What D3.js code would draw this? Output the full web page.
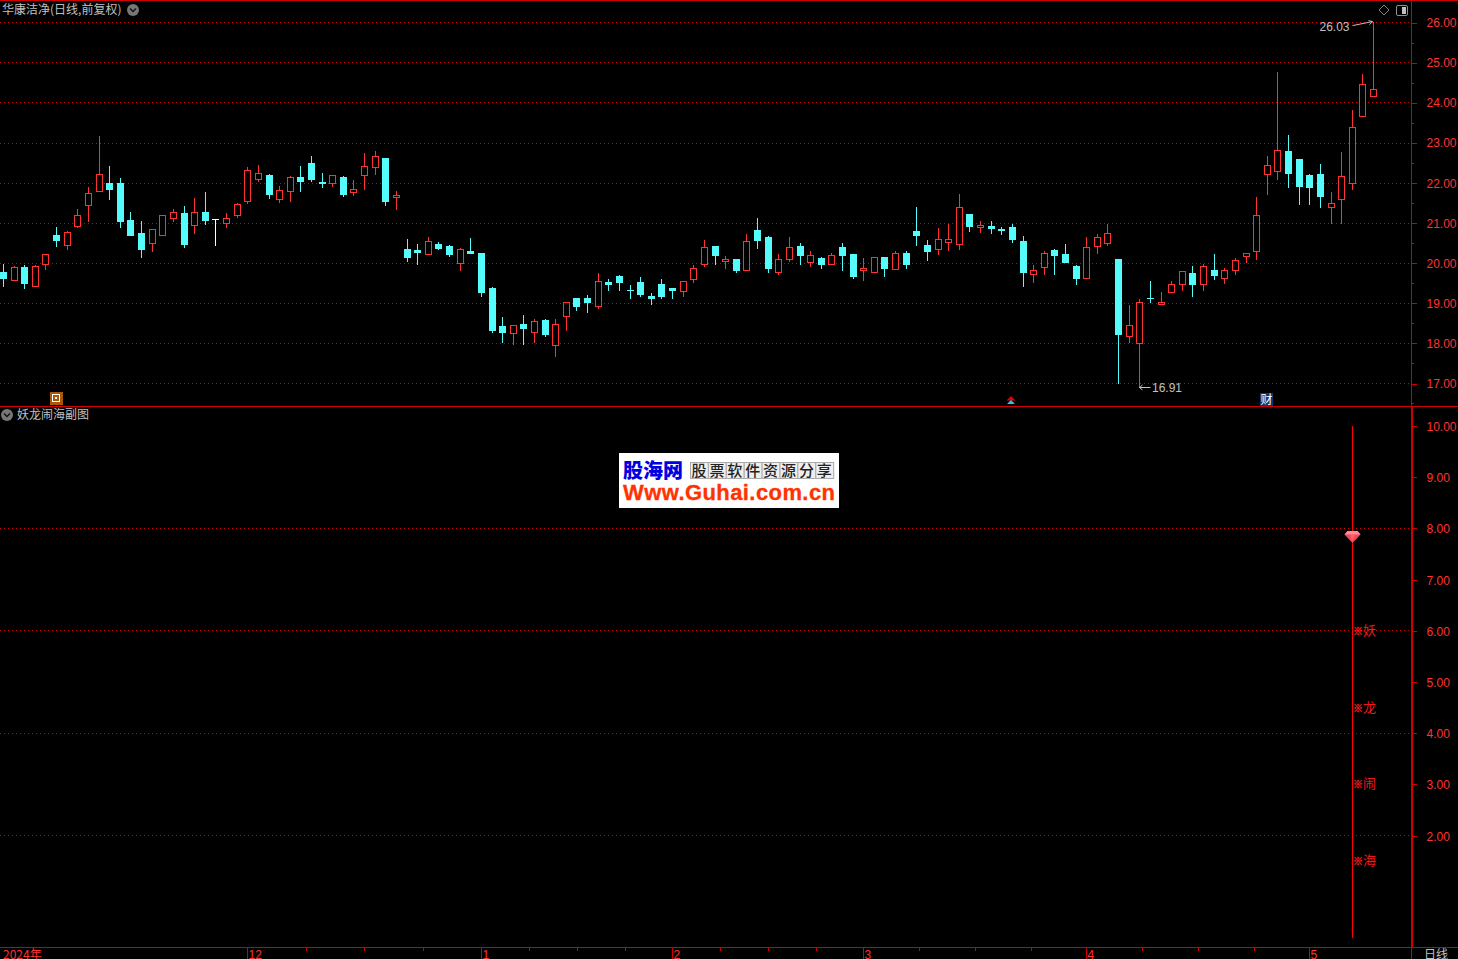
<!DOCTYPE html>
<html><head><meta charset="utf-8">
<script src="https://cdn.jsdelivr.net/npm/d3@7"></script>
<style>
html,body{margin:0;padding:0;background:#000;overflow:hidden}
svg{display:block}
text{font-family:"Liberation Sans","Noto Sans CJK SC",sans-serif}
.cjk{font-family:"Noto Sans CJK SC",sans-serif}
</style></head><body>
<script>
const stockTitle="华康洁净(日线,前复权)";
const subTitle="妖龙闹海副图";
const periodLabel="日线";
const opens=[19.76,19.57,19.90,19.42,19.97,20.69,20.44,20.91,21.43,21.78,22.0,22.0,21.07,20.75,20.49,20.69,21.11,21.25,20.94,21.27,21.08,20.99,21.18,21.53,22.08,22.2,21.58,21.78,22.15,22.49,22.02,21.98,22.15,21.76,22.18,22.4,22.62,21.63,
20.33,20.31,20.22,20.46,20.41,19.99,20.28,20.23,19.38,18.41,18.24,18.46,18.27,18.58,17.94,18.67,19.11,19.11,18.92,19.53,19.68,19.33,19.51,19.18,19.48,19.36,19.29,19.59,19.96,20.41,20.03,20.08,
19.82,20.81,20.63,19.77,20.09,20.41,20.02,20.11,19.97,20.38,20.21,19.81,19.77,20.13,19.84,20.23,20.78,20.43,20.34,20.52,20.47,21.21,20.88,20.91,20.83,20.88,20.53,19.72,19.89,20.31,20.21,19.91,19.62,20.42,20.49,
20.08,18.16,18.0,19.13,18.98,19.28,19.47,19.75,19.48,19.82,19.62,19.82,20.16,20.29,22.21,22.28,22.79,22.59,22.19,22.22,21.38,21.58,22.0,23.65,24.15];
const closes=[19.63,19.90,19.49,19.93,20.22,20.57,20.77,21.19,21.74,22.22,21.85,21.05,20.7,20.33,20.84,21.19,21.26,20.46,21.26,21.07,21.08,21.12,21.47,22.31,22.24,21.72,21.81,22.14,22.05,22.09,22.0,22.19,21.72,21.84,22.42,22.66,21.55,21.69,
20.13,20.26,20.53,20.36,20.21,20.35,20.23,19.28,18.31,18.28,18.45,18.36,18.55,18.21,18.47,19.03,18.93,19.03,19.55,19.48,19.51,19.31,19.21,19.13,19.16,19.31,19.55,19.88,20.4,20.18,20.08,19.81,
20.55,20.56,19.88,20.1,20.38,20.18,20.2,19.98,20.2,20.18,19.68,19.86,20.13,19.88,20.25,19.98,20.68,20.28,20.58,20.58,21.4,20.91,20.93,20.86,20.82,20.58,19.78,19.83,20.25,20.18,20.01,19.63,20.38,20.63,20.73,
18.21,18.44,19.02,19.11,19.01,19.46,19.79,19.48,19.92,19.7,19.82,20.06,20.23,21.19,22.43,22.81,22.23,21.92,21.89,21.67,21.49,22.16,23.38,24.45,24.33];
const highs=[20.0,19.95,19.98,19.96,20.22,20.92,20.82,21.37,21.92,23.19,22.44,22.15,21.3,21.07,20.84,21.2,21.37,21.45,21.65,21.8,21.1,21.27,21.52,22.42,22.47,22.25,21.95,22.2,22.44,22.69,22.27,22.22,22.2,22.1,22.77,22.82,22.62,21.82,
20.61,20.48,20.66,20.53,20.46,20.38,20.63,20.23,19.43,18.68,18.45,18.73,18.63,18.61,18.63,19.03,19.13,19.23,19.76,19.63,19.73,19.46,19.68,19.28,19.61,19.38,19.55,19.96,20.58,20.41,20.18,20.08,
20.73,21.13,20.68,20.23,20.66,20.51,20.31,20.16,20.26,20.51,20.21,20.13,20.13,20.16,20.31,20.31,21.41,20.58,20.88,21.0,21.73,21.23,21.06,21.06,20.91,20.98,20.68,19.96,20.31,20.36,20.48,19.98,20.66,20.73,21.0,
20.1,18.98,19.13,19.57,19.3,19.57,19.79,19.94,19.99,20.25,19.9,20.14,20.26,21.67,22.69,24.79,23.22,22.62,22.24,22.49,21.79,22.79,23.84,24.74,26.03];
const lows=[19.41,19.57,19.38,19.42,19.85,20.42,20.34,20.89,21.03,21.78,21.58,20.9,20.68,20.13,20.3,20.69,21.03,20.38,20.73,20.97,20.43,20.9,21.13,21.48,22.05,21.62,21.52,21.55,21.8,22.05,21.9,21.92,21.67,21.7,21.85,22.22,21.45,21.35,
20.03,19.98,20.22,20.33,20.16,19.83,20.23,19.16,18.26,18.01,17.96,17.96,18.03,18.18,17.68,18.33,18.81,18.76,18.88,19.33,19.31,19.13,19.16,18.98,19.11,19.13,19.18,19.53,19.93,19.98,19.86,19.78,
19.82,20.36,19.78,19.73,20.03,19.98,19.91,19.88,19.97,19.83,19.63,19.58,19.77,19.68,19.84,19.88,20.43,20.06,20.21,20.31,20.33,20.78,20.76,20.73,20.71,20.51,19.41,19.53,19.71,19.73,20.01,19.48,19.62,20.23,20.43,
17.0,18.01,16.91,19.03,18.98,19.28,19.33,19.16,19.33,19.6,19.5,19.73,20.02,20.09,21.72,22.09,21.89,21.47,21.47,21.39,20.98,21.0,21.84,23.65,24.15];
const priceTicks=[26,25,24,23,22,21,20,19,18,17];
const priceMinorTicks=[25.5,24.5,23.5,22.5,21.5,20.5,19.5,18.5,17.5,16.5];
const subTicks=[10,9,8,7,6,5,4,3,2];
const subGrid=[8,6,4,2];
const monthLabels=["12","1","2","3","4","5"];
const monthIndex=[23,45,63,81,102,123];
const yearLabel="2024年";
const signalIndex=127;
const signalTop=10, signalBottom=0, gemValue=7.83;
const signalChars=["妖","龙","闹","海"];
const signalValues=[6,4.5,3,1.5];
const maxIndex=129, minIndex=107;

const W=1458,H=959;
const RED="#ff3232",CYAN="#54fcfc",FRAME="#d00000",GRID="#d80000",GRAY="#c0c0c0";
const PLOT_R=1412, MAIN_B=406.5, SUB_B=947.5;
const svg=d3.select("body").append("svg").attr("width",W).attr("height",H).style("background","#000");
const x=d3.scaleLinear().domain([0,129]).range([3.3,1373.3]);
const y=d3.scaleLinear().domain([17,26]).range([383.4,22.8]);
const ys=d3.scaleLinear().domain([0,10]).range([938,426]);
const cx=i=>Math.floor(x(i)+.2)+.5;
const py=v=>Math.floor(y(v))+.5;
const ps=v=>Math.floor(ys(v))+.5;

// grids
const grid=svg.append("g").attr("stroke",GRID).attr("stroke-dasharray","1,3").attr("shape-rendering","crispEdges");
grid.selectAll(".m").data(priceTicks).join("line").attr("x1",0).attr("x2",PLOT_R).attr("y1",py).attr("y2",py);
grid.selectAll(".s").data(subGrid).join("line").attr("x1",0).attr("x2",PLOT_R).attr("y1",ps).attr("y2",ps);

// candles
const data=d3.range(opens.length).map(i=>({i,o:opens[i],c:closes[i],h:highs[i],l:lows[i]}));
const col=d=>d.c>d.o?RED:d.c<d.o?CYAN:"#ffffff";
const cg=svg.append("g").attr("shape-rendering","crispEdges");
const candle=cg.selectAll("g").data(data).join("g");
candle.append("line").attr("x1",d=>cx(d.i)).attr("x2",d=>cx(d.i))
  .attr("y1",d=>py(d.h)).attr("y2",d=>py(Math.max(d.o,d.c))).attr("stroke",col);
candle.append("line").attr("x1",d=>cx(d.i)).attr("x2",d=>cx(d.i))
  .attr("y1",d=>py(Math.min(d.o,d.c))).attr("y2",d=>py(d.l)+.5).attr("stroke",col);
candle.filter(d=>d.c>d.o).append("rect")
  .attr("x",d=>cx(d.i)-3).attr("width",6)
  .attr("y",d=>py(d.c)).attr("height",d=>Math.max(1,py(d.o)-py(d.c)))
  .attr("fill","#000").attr("stroke",RED);
candle.filter(d=>d.c<d.o).append("rect")
  .attr("x",d=>cx(d.i)-3.5).attr("width",7)
  .attr("y",d=>py(d.o)-.5).attr("height",d=>Math.max(1,py(d.c)-py(d.o)+1))
  .attr("fill",CYAN);
candle.filter(d=>d.c===d.o).append("line")
  .attr("x1",d=>cx(d.i)-3.5).attr("x2",d=>cx(d.i)+3)
  .attr("y1",d=>py(d.o)).attr("y2",d=>py(d.o)).attr("stroke","#fff");

// extreme labels
const ann=svg.append("g").attr("fill",GRAY).attr("font-size",12);
const hx=cx(maxIndex),hy=y(highs[maxIndex]);
ann.append("text").attr("x",hx-54).attr("y",hy+9).text(highs[maxIndex].toFixed(2));
const lx=cx(minIndex),ly=y(lows[minIndex]);
ann.append("text").attr("x",lx+12.5).attr("y",ly+5).text(lows[minIndex].toFixed(2));
const arrows=svg.append("g").attr("stroke",GRAY).attr("fill","none");
arrows.append("path").attr("d",`M${hx-21},${hy+4}L${hx-1},${hy}M${hx-5},${hy-1}L${hx-1},${hy}L${hx-4},${hy+3}`);
arrows.append("path").attr("d",`M${lx+11},${ly+.5}H${lx}M${lx+3},${ly-2}L${lx},${ly+.5}L${lx+3},${ly+3}`);

// sub-panel signal
svg.append("line").attr("x1",cx(signalIndex)).attr("x2",cx(signalIndex)).attr("y1",ys(signalTop)).attr("y2",ys(signalBottom))
  .attr("stroke","#ff0000").attr("shape-rendering","crispEdges");
const gx=cx(signalIndex),gy=ys(gemValue);
const gem=svg.append("g").attr("transform",`translate(${gx},${gy})`);
gem.append("path").attr("d","M-5,-6H5L8,-2.5L0,6L-8,-2.5Z").attr("fill","#f04858");
gem.append("path").attr("d","M-5,-6H5L8,-2.5H-8Z").attr("fill","#ff8c94");
gem.append("path").attr("d","M-3,-2.5H3L0,4Z").attr("fill","#ff5c68");
const sig=svg.append("g").selectAll("g").data(signalChars).join("g");
sig.append("text").attr("x",gx+.5).attr("y",(d,i)=>ys(signalValues[i])+4).attr("fill","#f01818").attr("stroke","#f01818").attr("stroke-width",.4).attr("font-size",10).attr("font-weight",700).attr("class","cjk").text("※");
sig.append("text").attr("x",gx+10.5).attr("y",(d,i)=>ys(signalValues[i])+4).attr("fill","#f01818").attr("font-size",13).attr("class","cjk").text(d=>d);

// frame
const frame=svg.append("g").attr("stroke",FRAME).attr("shape-rendering","crispEdges").attr("fill","none");
frame.append("line").attr("x1",0).attr("x2",W).attr("y1",.5).attr("y2",.5);
frame.append("line").attr("x1",0).attr("x2",W).attr("y1",MAIN_B).attr("y2",MAIN_B);
frame.append("line").attr("x1",0).attr("x2",W).attr("y1",SUB_B).attr("y2",SUB_B);
frame.append("line").attr("x1",PLOT_R-.5).attr("x2",PLOT_R-.5).attr("y1",0).attr("y2",H);
frame.append("line").attr("x1",PLOT_R+.5).attr("x2",PLOT_R+.5).attr("y1",MAIN_B).attr("y2",SUB_B);

// right axes via d3 axis
function styleAxis(g){
  g.select(".domain").remove();
  g.selectAll("line").attr("stroke",FRAME).attr("shape-rendering","crispEdges");
  g.selectAll("text").attr("fill",RED).attr("font-size",12).attr("font-family","Liberation Sans");
}
svg.append("g").attr("transform",`translate(${PLOT_R-.5},0)`)
  .call(d3.axisRight(d3.scaleLinear().domain(y.domain()).range([383.5,22.9])).tickValues(priceTicks).tickSize(5).tickPadding(10).tickFormat(d3.format(".2f")))
  .call(styleAxis);
svg.append("g").attr("transform",`translate(${PLOT_R-.5},0)`)
  .call(d3.axisRight(y).tickValues(priceMinorTicks).tickSize(2).tickFormat(""))
  .call(styleAxis);
svg.append("g").attr("transform",`translate(${PLOT_R-.5},0)`)
  .call(d3.axisRight(ys).tickValues(subTicks).tickSize(5).tickPadding(10).tickFormat(d3.format(".2f")))
  .call(styleAxis)
  .call(g=>g.selectAll("text").attr("y",.6));

// x axis
const mx=i=>Math.floor(x(i))+.5;
const xa=svg.append("g").attr("shape-rendering","crispEdges");
xa.selectAll("line.month").data(monthIndex).join("line").attr("x1",mx).attr("x2",mx).attr("y1",SUB_B).attr("y2",H).attr("stroke",FRAME);
const pairs=d3.pairs(monthIndex);
const minorIdx=pairs.flatMap(([a,b])=>[1,2,3].map(k=>a+(b-a)*k/4));
xa.selectAll("line.minor").data(minorIdx).join("line").attr("x1",d=>Math.round(x(d))+.5).attr("x2",d=>Math.round(x(d))+.5).attr("y1",SUB_B).attr("y2",SUB_B+3).attr("stroke",FRAME);
const xl=svg.append("g").attr("fill",RED).attr("font-size",12);
xl.selectAll("text").data(monthLabels).join("text").attr("x",(d,i)=>mx(monthIndex[i])+1).attr("y",959).text(d=>d);
xl.append("text").attr("x",3).attr("y",959).attr("class","cjk").text(yearLabel);
svg.append("text").attr("x",1424).attr("y",959).attr("fill",GRAY).attr("font-size",12).attr("class","cjk").text(periodLabel);

// titles
function chevron(cxx,cyy){
  const g=svg.append("g").attr("transform",`translate(${cxx},${cyy})`);
  g.append("circle").attr("r",6).attr("fill","#777");
  g.append("path").attr("d","M-3,-1.5L0,1.5L3,-1.5").attr("fill","none").attr("stroke","#111").attr("stroke-width",1.4);
}
svg.append("text").attr("x",2).attr("y",14).attr("fill",GRAY).attr("font-size",12).attr("class","cjk").text(stockTitle);
chevron(133,10);
svg.append("text").attr("x",17).attr("y",419).attr("fill",GRAY).attr("font-size",12).attr("class","cjk").text(subTitle);
chevron(7,415);

// top-right icons
const tr=svg.append("g");
tr.append("path").attr("d","M1384,5L1389,10L1384,15L1379,10Z").attr("fill","none").attr("stroke","#808080");
tr.append("rect").attr("x",1396.5).attr("y",5.5).attr("width",11).attr("height",10).attr("rx",1.5).attr("fill","none").attr("stroke","#909090");
tr.append("rect").attr("x",1402).attr("y",7).attr("width",4).attr("height",7).attr("fill","#c0c0c0");

// bottom markers of the main panel
const bm=svg.append("g");
bm.append("rect").attr("x",50).attr("y",392).attr("width",13).attr("height",13).attr("fill","#a85808");
bm.append("rect").attr("x",52.5).attr("y",394.5).attr("width",7).attr("height",7).attr("fill","none").attr("stroke","#fff");
bm.append("rect").attr("x",55).attr("y",397).attr("width",2).attr("height",2).attr("fill","#fff");
bm.append("path").attr("d","M1011,396L1015.5,400.5H1006.5Z").attr("fill","#e00000");
bm.append("path").attr("d","M1011,400L1015,404H1007Z").attr("fill","#30c0f0");
bm.append("rect").attr("x",1260).attr("y",393).attr("width",13).attr("height",13).attr("fill","#0a3a70");
bm.append("text").attr("x",1260.5).attr("y",404).attr("fill","#fff").attr("font-size",12).attr("class","cjk").text("财");

// watermark logo
const lg=svg.append("g");
lg.append("rect").attr("x",619).attr("y",453).attr("width",220).attr("height",55).attr("fill","#fff");
lg.append("text").attr("x",623).attr("y",478).attr("fill","#0000e0").attr("font-size",20).attr("font-weight",900).attr("class","cjk").text("股海网");
const boxChars=["股","票","软","件","资","源","分","享"];
lg.selectAll("rect.b").data(boxChars).join("rect").attr("x",(d,i)=>690.5+i*17.9).attr("y",462.5).attr("width",17.9).attr("height",16).attr("fill","#eee").attr("stroke","#aaa");
lg.selectAll("text.b").data(boxChars).join("text").attr("x",(d,i)=>691.5+i*17.9).attr("y",476).attr("fill","#222").attr("font-size",15).attr("font-weight",500).attr("font-family","Noto Sans CJK SC").text(d=>d);
lg.append("text").attr("x",623).attr("y",500).attr("fill","#ff3300").attr("stroke","#ff3300").attr("stroke-width",.3).attr("font-size",22).attr("font-weight",700).attr("font-family","Liberation Sans").attr("textLength",212).text("Www.Guhai.com.cn");
</script>
</body></html>
